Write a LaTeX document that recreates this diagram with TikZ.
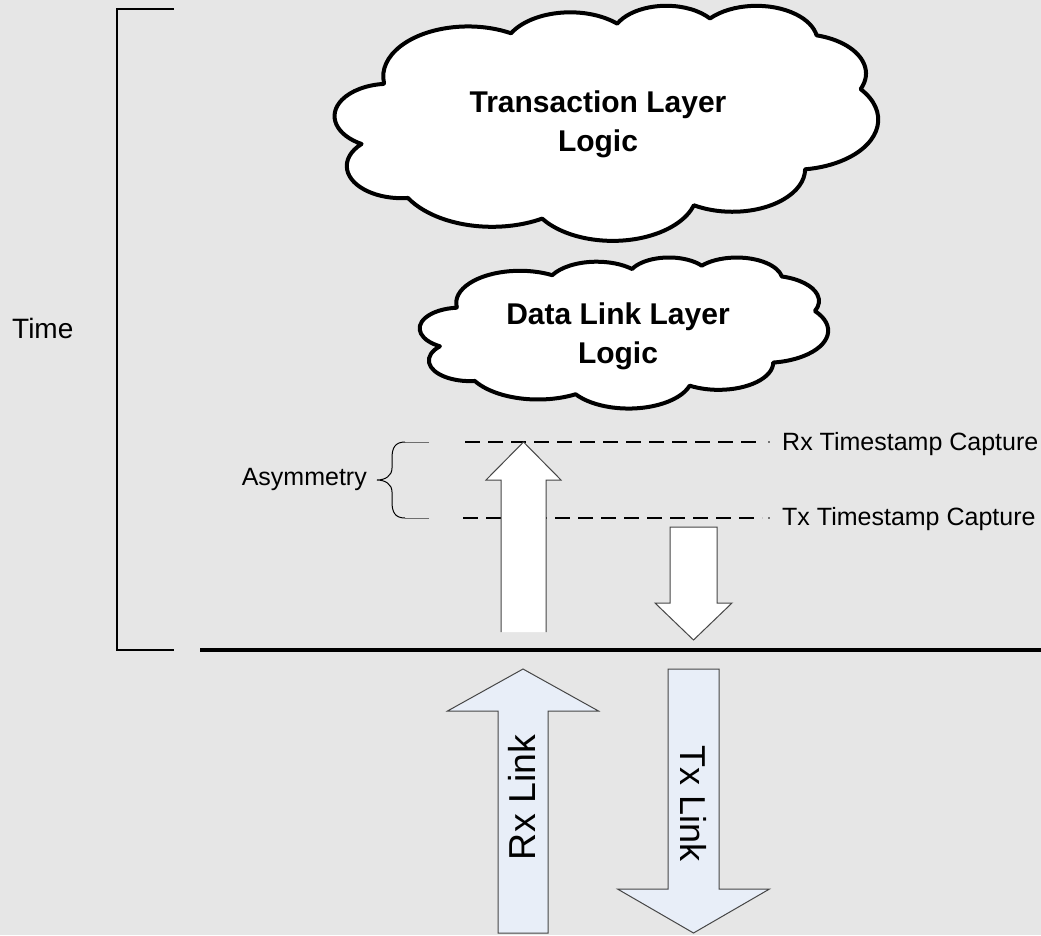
\documentclass[tikz,border=0pt]{standalone}
\usepackage{fontspec}
\setmainfont{Liberation Sans}
\definecolor{bg}{RGB}{230,230,230}
\definecolor{linkfill}{RGB}{232,238,248}
\definecolor{edgegray}{RGB}{70,70,70}
\definecolor{brgray}{RGB}{110,110,110}
% one arc of the office cloud outline: x radius, y radius, start angle, sweep (visual angles)
\newcommand{\cloudarc}[4]{arc[x radius=#1, y radius=#2,
  start angle={atan2((#1)*sin(#3),(#2)*cos(#3))},
  delta angle={Mod(atan2((#1)*sin((#3)+(#4)),(#2)*cos((#3)+(#4)))-atan2((#1)*sin(#3),(#2)*cos(#3)),360)}]}
\newcommand{\cloudoutline}{(39.00,143.70)
  \cloudarc{67.53}{91.90}{-190.48748}{123.78053}
  \cloudarc{53.33}{72.67}{-144.10238}{89.94523}
  \cloudarc{43.65}{59.45}{-145.80792}{99.72302}
  \cloudarc{48.57}{65.95}{-130.98607}{117.24173}
  \cloudarc{53.33}{72.73}{-78.70888}{109.02692}
  \cloudarc{67.75}{92.20}{-46.26725}{130.269}
  \cloudarc{57.85}{78.67}{0.62502}{114.03333}
  \cloudarc{67.52}{92.15}{22.4516}{115.17255}
  \cloudarc{77.20}{105.43}{66.24263}{75.71102}
  \cloudarc{43.60}{59.18}{-274.94208}{146.73557}
  \cloudarc{43.45}{59.45}{-246.8285}{152.51885}
  -- cycle}
\begin{document}
\begin{tikzpicture}[x=1pt,y=-1pt,
  cloudline/.style={draw=black, line width=4pt, fill=white, line join=round},
  cloudtext/.style={font=\bfseries\fontsize{30}{39}\selectfont, align=center, inner sep=0pt},
  lbl/.style={font=\fontsize{25}{30}\selectfont, inner sep=0pt},
  linklbl/.style={font=\fontsize{36}{40}\selectfont, inner sep=0pt},
  blockarrow/.style={draw=edgegray, line width=1pt, line join=miter},
  capline/.style={dash pattern=on 15pt off 8pt, line width=1.3pt},
  bracket/.style={line width=1.3pt, draw=black},
]
\useasboundingbox (0,0) rectangle (1041,935);
\fill[bg] (0,0) rectangle (1041,935);

% clouds
\begin{scope}[shift={(335,5)}, x=1.2569pt, y=-0.5440pt]
  \path[cloudline] \cloudoutline;
\end{scope}
\node[cloudtext] (tltext) at (598,124.7) {Transaction Layer\\Logic};
\begin{scope}[shift={(420,257)}, x=0.9444pt, y=-0.3495pt]
  \path[cloudline] \cloudoutline;
\end{scope}
\node[cloudtext] (dltext) at (618,336.7) {Data Link Layer\\Logic};

% time bracket
\coordinate (btop) at (174,9);
\coordinate (bbot) at (174,650);
\draw[bracket] (btop) -- (117,9) -- (117,650) -- (bbot);
\node[font=\fontsize{28}{32}\selectfont, inner sep=0pt, anchor=base west] (time) at (12,338) {Time};

% physical boundary
\coordinate (phl) at (200,650);
\coordinate (phr) at (1041,650);
\draw[line width=4pt] (phl) -- (phr);

% capture lines
\coordinate (rxs) at (465,442);
\coordinate (rxe) at (762,442);
\coordinate (txs) at (463,518);
\coordinate (txe) at (762,518);
\draw[capline] (rxs) -- (rxe);
\draw[capline] (txs) -- (txe);
\fill (769,442) circle (0.8pt);
\fill (769,518) circle (0.8pt);
\node[lbl, anchor=base west] (rxcap) at (782,450) {Rx Timestamp Capture};
\node[lbl, anchor=base west] (txcap) at (782,525) {Tx Timestamp Capture};

% asymmetry brace
\coordinate (brt) at (429,442);
\coordinate (brb) at (429,518);
\draw[line width=1pt, brgray] (brt) -- (405,442);
\draw[line width=1pt, brgray] (brb) -- (405,518);
\draw[line width=1pt] (405,442) .. controls (395,442) and (392,448) .. (392,458)
  -- (392,468) .. controls (392,476) and (385,480) .. (377,480)
  .. controls (385,480) and (392,484) .. (392,492)
  -- (392,502) .. controls (392,512) and (395,518) .. (405,518);
\node[lbl, anchor=base east] (asym) at (367,485) {Asymmetry};

% up arrow (rx capture)
\fill[white] (501,632) -- (501,480) -- (486,480) -- (523.5,442) -- (561,480) -- (546,480) -- (546,632) -- cycle;
\draw[blockarrow] (501,632) -- (501,480) -- (486,480) -- (523.5,442) -- (561,480) -- (546,480) -- (546,632);

% down arrow (tx capture)
\draw[blockarrow, fill=white] (670,527) -- (717,527) -- (717,603) -- (732,603) -- (693.5,640) -- (655,603) -- (670,603) -- cycle;

% Rx Link arrow
\draw[blockarrow, fill=linkfill] (498,933) -- (498,711) -- (447.5,711) -- (523,669) -- (598.5,711) -- (548,711) -- (548,933) -- cycle;
\node[linklbl, font=\fontsize{37.5}{40}\selectfont, rotate=90] (rxlink) at (521.5,797.5) {Rx Link};

% Tx Link arrow
\draw[blockarrow, fill=linkfill] (668,669) -- (719,669) -- (719,889) -- (769.5,889) -- (693.5,933) -- (617.5,889) -- (668,889) -- cycle;
\node[linklbl, rotate=-90] (txlink) at (694,804) {Tx Link};
\end{tikzpicture}
\end{document}
